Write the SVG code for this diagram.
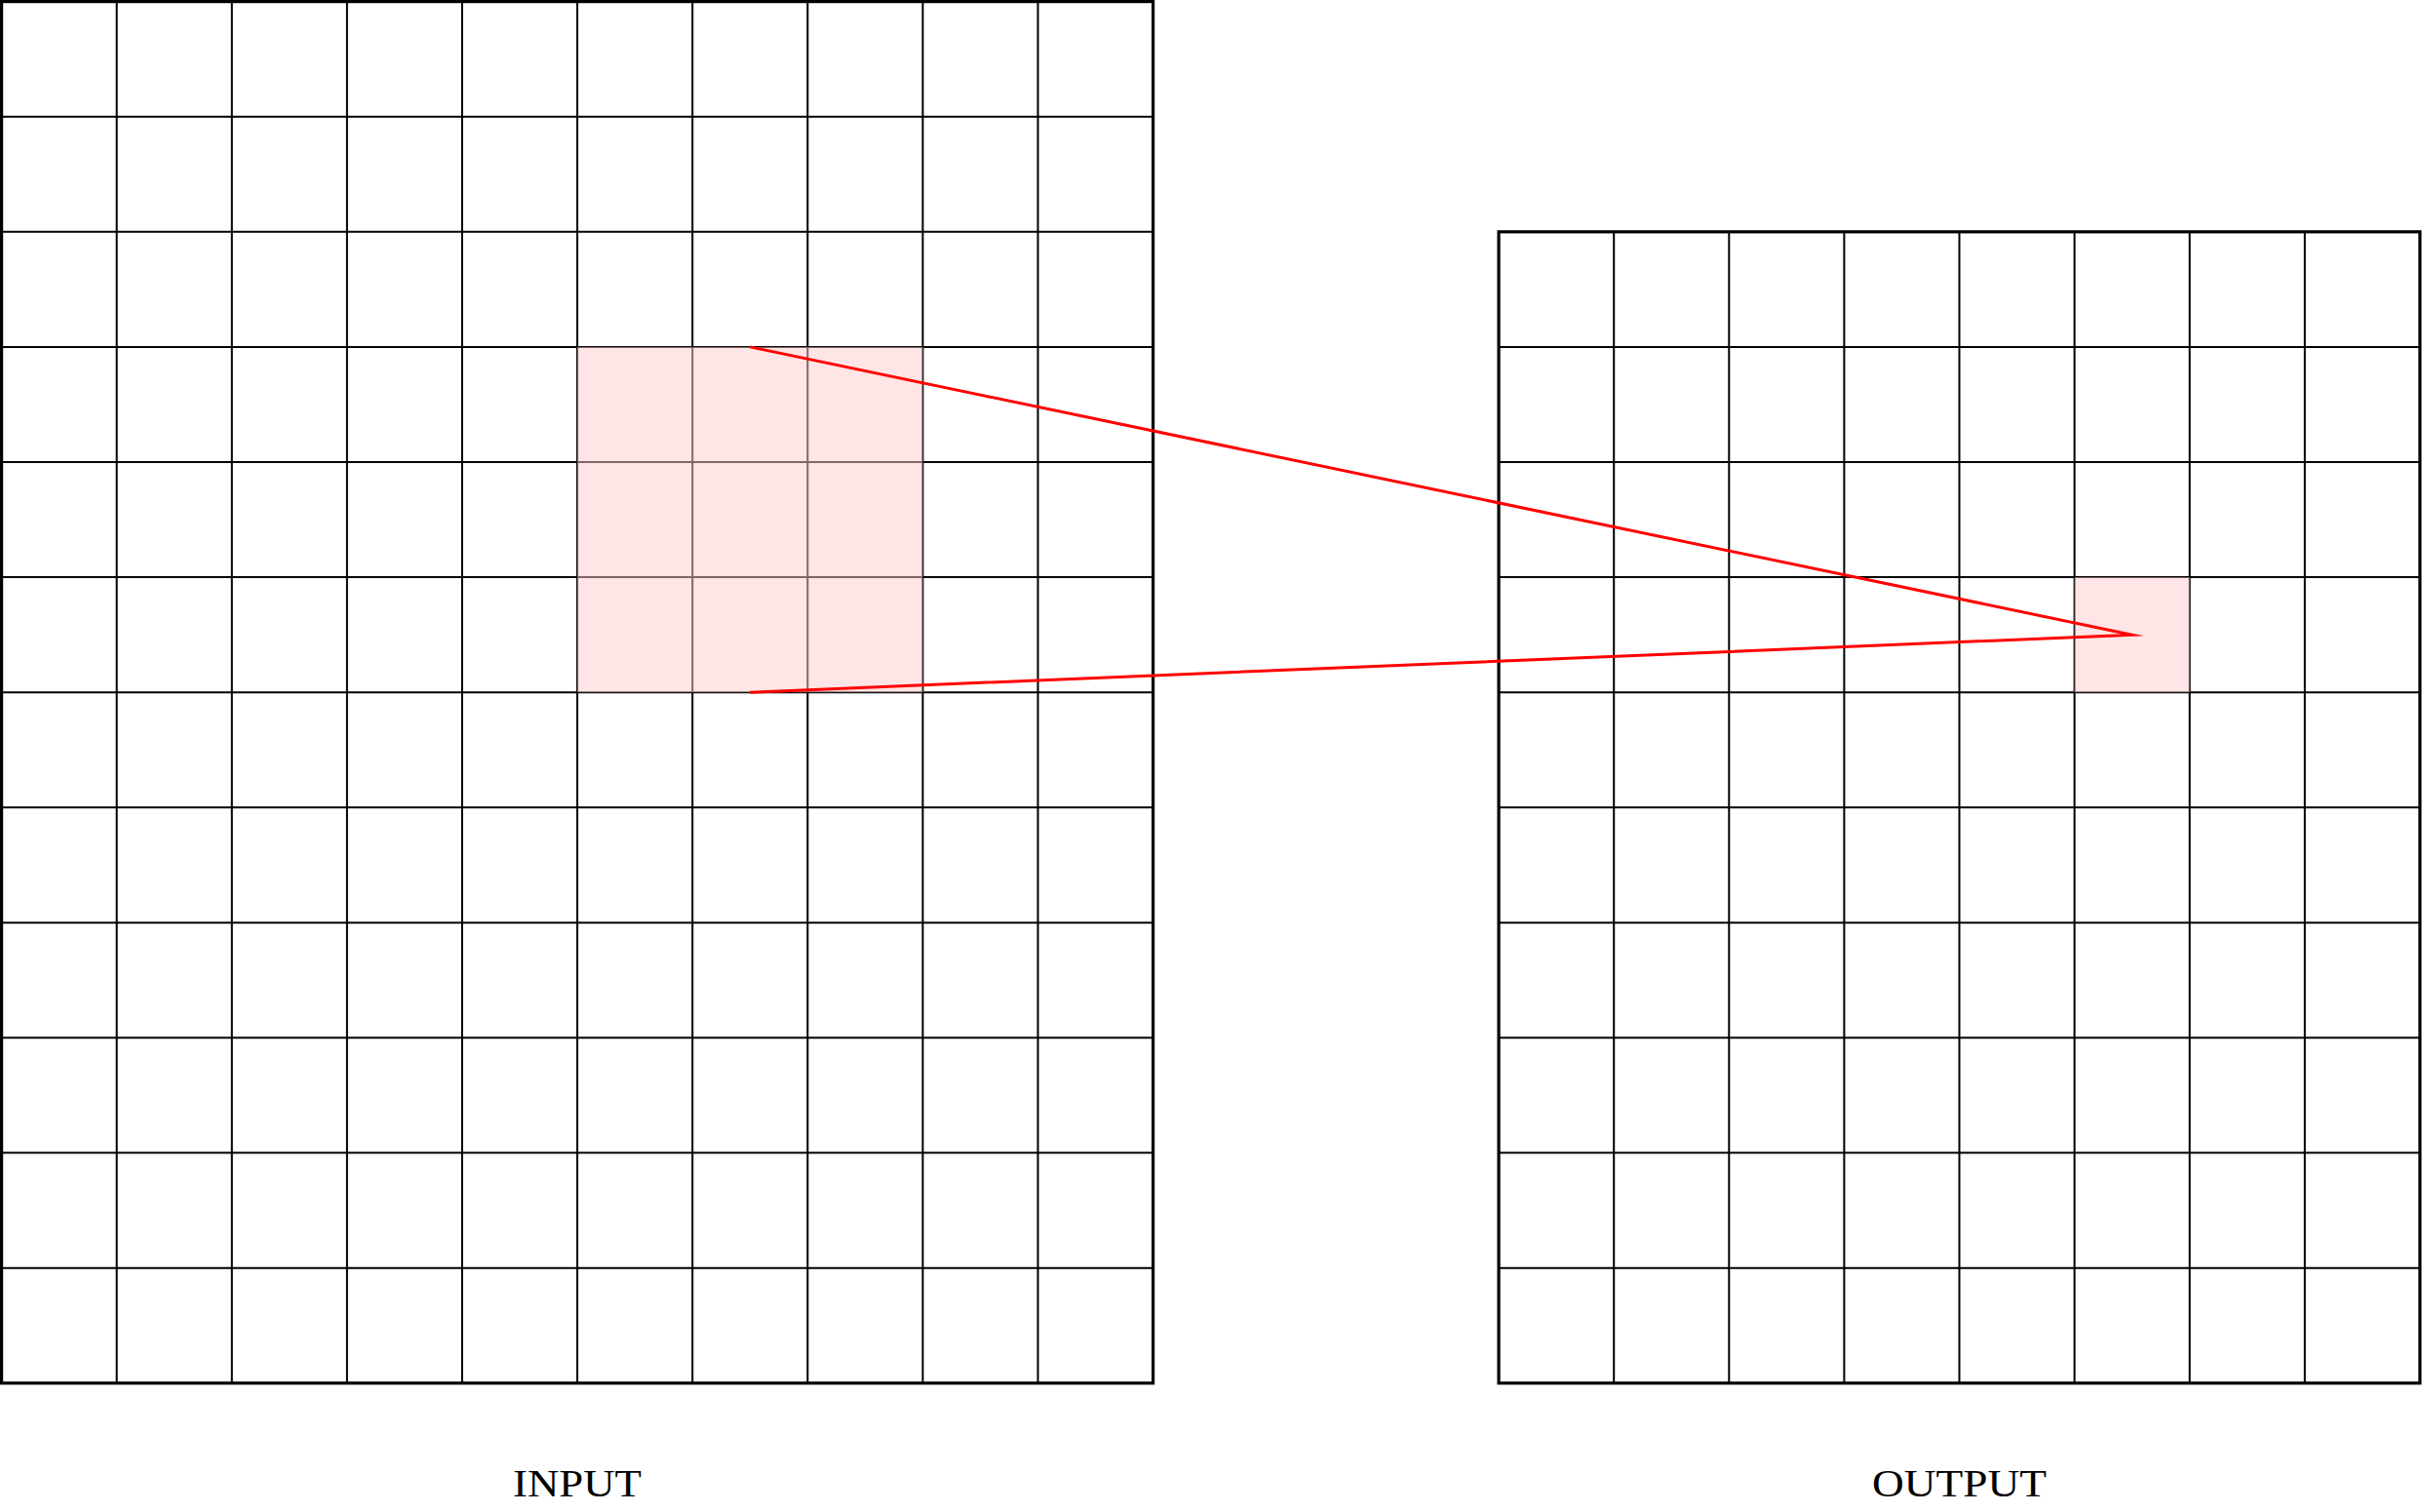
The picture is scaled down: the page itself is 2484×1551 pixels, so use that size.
<svg xmlns="http://www.w3.org/2000/svg" width="2484" height="1551" viewBox="0 0 2484 1551">
<style>
.inner{fill:none;stroke:#000;stroke-width:2}
.border{fill:none;stroke:#000;stroke-width:3.2}
.hl{fill:#ffcccc;fill-opacity:0.5;stroke:none}
.conn{fill:none;stroke:#ff0000;stroke-width:3;stroke-linejoin:miter;stroke-miterlimit:10}
.lbl{font-family:"Liberation Serif","DejaVu Serif",serif;font-size:41px;fill:#000;text-anchor:middle}
</style>
<rect width="2484" height="1551" fill="#fff"/>
<g id="input">
<path class="inner" d="M119.7 1.6V1418.8M237.8 1.6V1418.8M355.9 1.6V1418.8M474 1.6V1418.8M592.1 1.6V1418.8M710.2 1.6V1418.8M828.3 1.6V1418.8M946.4 1.6V1418.8M1064.5 1.6V1418.8M1.6 119.7H1182.6M1.6 237.8H1182.6M1.6 355.9H1182.6M1.6 474H1182.6M1.6 592.1H1182.6M1.6 710.2H1182.6M1.6 828.3H1182.6M1.6 946.4H1182.6M1.6 1064.5H1182.6M1.6 1182.6H1182.6M1.6 1300.7H1182.6"/>
<rect class="border" x="1.6" y="1.6" width="1181" height="1417.2"/>
<rect id="input-window" class="hl" x="592.1" y="355.9" width="354.3" height="354.3"/>
<text class="lbl" x="592" y="1535" textLength="132" lengthAdjust="spacingAndGlyphs">INPUT</text>
</g>
<g id="output">
<path class="inner" d="M1655.2 237.8V1418.8M1773.3 237.8V1418.8M1891.4 237.8V1418.8M2009.5 237.8V1418.8M2127.6 237.8V1418.8M2245.7 237.8V1418.8M2363.8 237.8V1418.8M1537.1 355.9H2481.9M1537.1 474H2481.9M1537.1 592.1H2481.9M1537.1 710.2H2481.9M1537.1 828.3H2481.9M1537.1 946.4H2481.9M1537.1 1064.5H2481.9M1537.1 1182.6H2481.9M1537.1 1300.7H2481.9"/>
<rect class="border" x="1537.1" y="237.8" width="944.8" height="1181"/>
<rect id="output-cell" class="hl" x="2127.6" y="592.1" width="118.1" height="118.1"/>
<text class="lbl" x="2009.5" y="1535" textLength="179" lengthAdjust="spacingAndGlyphs">OUTPUT</text>
</g>
<g id="connectors">
<path class="conn" d="M769.3 355.9L2186.7 651.2L769.3 710.2"/>
</g>
</svg>
